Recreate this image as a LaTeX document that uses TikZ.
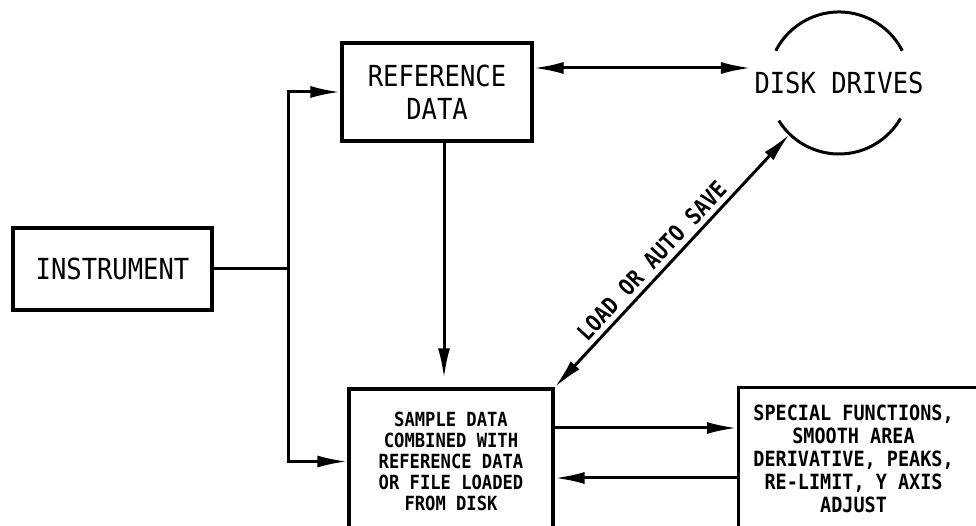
\documentclass[tikz,border=0pt]{standalone}
\usepackage{fontspec}
\newfontfamily\leroy[FakeStretch=0.88]{DejaVu Sans Mono}
\usepackage{tikz}
\usetikzlibrary{arrows.meta, calc}
\newcommand{\bigletters}{\leroy\fontsize{29}{33}\selectfont}
\newcommand{\noteletters}{\leroy\bfseries\fontsize{19.5}{21}\selectfont}
\newcommand{\funcletters}{\leroy\bfseries\fontsize{21}{23}\selectfont}
\newcommand{\pathletters}{\leroy\bfseries\fontsize{23}{26}\selectfont}
\tikzset{
  blockbox/.style={rectangle, draw, line width=3.2pt, font=\bigletters, align=center},
  notebox/.style={rectangle, draw, line width=3.2pt, font=\noteletters, align=center},
  functext/.style={font=\funcletters, align=center, inner sep=0pt},
  drivetext/.style={font=\bigletters},
  ring/.style={line width=3pt},
  link/.style={line width=3pt},
  arrow/.style={link, -{Latex[length=30pt, width=12pt]}},
  botharrow/.style={link, {Latex[length=30pt, width=12pt]}-{Latex[length=30pt, width=12pt]}},
  pathlabel/.style={font=\pathletters, inner sep=5pt}
}
\begin{document}
\begin{tikzpicture}[x=1pt, y=1pt]
  \useasboundingbox (0,0) rectangle (976,526);
  \clip (0,0) rectangle (976,526);

  \node[blockbox, minimum width=199, minimum height=82] (instr) at (112.5,257) {INSTRUMENT};
  \node[blockbox, minimum width=190, minimum height=98] (ref) at (437,434) {REFERENCE\\DATA};
  \node[notebox, minimum width=204, minimum height=145] (sample) at (451,64.5)
    {SAMPLE DATA\\COMBINED WITH\\REFERENCE DATA\\OR FILE LOADED\\FROM DISK};
  \node[notebox, anchor=north west, minimum width=300, minimum height=152] (special) at (737,140) {};
  \node[functext] (specialtext) at (853.5,67.5)
    {SPECIAL FUNCTIONS,\\SMOOTH AREA\\DERIVATIVE, PEAKS,\\RE-LIMIT, Y AXIS\\ADJUST};

  \node[drivetext] (disk) at (839,443) {DISK DRIVES};
  \draw[ring] ([shift={(27:71)}]disk.center) arc[start angle=27, end angle=153, radius=71];
  \draw[ring] ([shift={(212:71)}]disk.center) arc[start angle=212, end angle=330, radius=71];

  \coordinate (split) at ([xshift=75]instr.east);
  \draw[link] (instr.east) -- (split);
  \draw[arrow] (split) |- (ref.west);
  \draw[arrow] (split) |- (sample.west);
  \draw[arrow, shorten >=9] ([xshift=7]ref.south) -- ([xshift=7]ref.south |- sample.north);

  \draw[botharrow] ([yshift=24]ref.east) -- ([yshift=24]ref.east -| disk.west);
  \draw[botharrow] (sample.north east) -- ([shift={(226:71)}]disk.center)
    node[pathlabel, pos=0.46, sloped, above] {LOAD OR AUTO SAVE};

  \draw[arrow] ([yshift=33.5]sample.east) -- ([yshift=33.5]sample.east -| special.west);
  \draw[arrow] ([yshift=-16.5]sample.east -| special.west) -- ([yshift=-16.5]sample.east);
\end{tikzpicture}
\end{document}
